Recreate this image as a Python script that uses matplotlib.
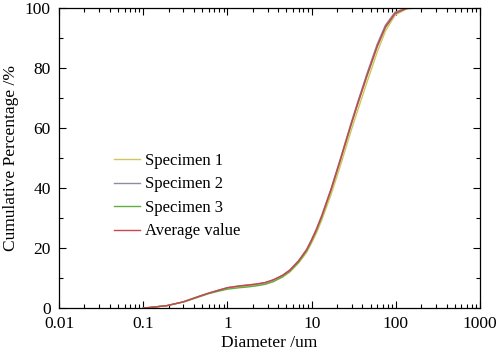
import matplotlib.pyplot as plt
from matplotlib.ticker import MultipleLocator, LogLocator, FixedLocator, NullFormatter

plt.rcParams["font.family"] = ["Liberation Serif", "DejaVu Serif"]

# particle size distribution (diameter in um, cumulative %)
diameter = [0.1, 0.13, 0.15, 0.19, 0.3, 0.47, 0.6, 0.75, 1.0, 1.4, 1.7, 2.2, 2.8, 3.5,
            4.5, 5.5, 7, 8.7, 10, 11.4, 13.2, 17, 21.7, 25, 30, 35, 45, 60, 75, 98,
            133, 175, 200]
spec1 = [0, 0.3, 0.5, 0.8, 2.1, 4.0, 4.9, 5.7, 6.6, 7.1, 7.3, 7.6, 8.1, 8.9,
         10.3, 12.0, 15.0, 18.5, 21.7, 25.0, 29.3, 37.8, 47.0, 52.6, 59.8, 65.6, 74.9,
         85.2, 92.2, 97.6, 99.6, 100, 100]
spec2 = [0, 0.3, 0.5, 0.8, 2.1, 4.0, 5.0, 5.8, 6.8, 7.4, 7.7, 8.0, 8.5, 9.4,
         10.9, 12.7, 15.8, 19.5, 22.9, 26.4, 30.9, 39.8, 49.3, 55.1, 62.4, 68.4, 77.8,
         87.9, 94.2, 98.6, 99.9, 100, 100]
spec3 = [0, 0.3, 0.5, 0.8, 2.0, 3.8, 4.8, 5.5, 6.3, 6.8, 7.0, 7.4, 7.9, 8.8,
         10.4, 12.2, 15.3, 19.0, 22.3, 25.8, 30.3, 39.2, 48.7, 54.4, 61.7, 67.6, 76.9,
         87.0, 93.4, 98.1, 99.8, 100, 100]
average = [0, 0.3, 0.5, 0.8, 2.1, 4.0, 5.0, 5.8, 6.8, 7.4, 7.6, 8.0, 8.5, 9.4,
           10.9, 12.6, 15.7, 19.4, 22.7, 26.2, 30.7, 39.5, 49.0, 54.7, 62.0, 67.9, 77.2,
           87.2, 93.6, 98.2, 99.8, 100, 100]

fig = plt.figure(figsize=(4.98, 3.57), dpi=100)
ax = fig.add_axes([0.1185, 0.137, 0.8455, 0.841])

ax.plot(diameter, spec1, color="#d2c462", lw=1.0, label="Specimen 1")
ax.plot(diameter, spec2, color="#8c8ca4", lw=1.0, label="Specimen 2")
ax.plot(diameter, spec3, color="#5fb042", lw=1.0, label="Specimen 3")
ax.plot(diameter, average, color="#cc4450", lw=1.0, label="Average value")

ax.set_xscale("log")
ax.set_xlim(0.01, 1000)
ax.set_ylim(0, 100)
ax.xaxis.set_major_locator(FixedLocator([0.01, 0.1, 1, 10, 100, 1000]))
ax.set_xticklabels(["0.01", "0.1", "1", "10", "100", "1000"])
ax.xaxis.set_minor_locator(LogLocator(base=10, subs=range(2, 10), numticks=20))
ax.xaxis.set_minor_formatter(NullFormatter())
ax.yaxis.set_major_locator(MultipleLocator(20))
ax.yaxis.set_minor_locator(MultipleLocator(10))

ax.tick_params(which="both", direction="in", top=True, right=True, labelsize=12.5, pad=6)
ax.tick_params(which="major", length=5, width=0.8)
ax.tick_params(which="minor", length=3, width=0.8)
for s in ax.spines.values():
    s.set_linewidth(0.9)

ax.set_xlabel("Diameter /um", fontsize=12.5, labelpad=2)
ax.set_ylabel("Cumulative Percentage /%", fontsize=12.5, labelpad=4)

ax.legend(loc="upper left", bbox_to_anchor=(0.13, 0.517), frameon=False,
          fontsize=12, handlelength=1.6, handletextpad=0.25, labelspacing=0.45,
          borderpad=0, borderaxespad=0)

fig.savefig("out.png", dpi=100)
